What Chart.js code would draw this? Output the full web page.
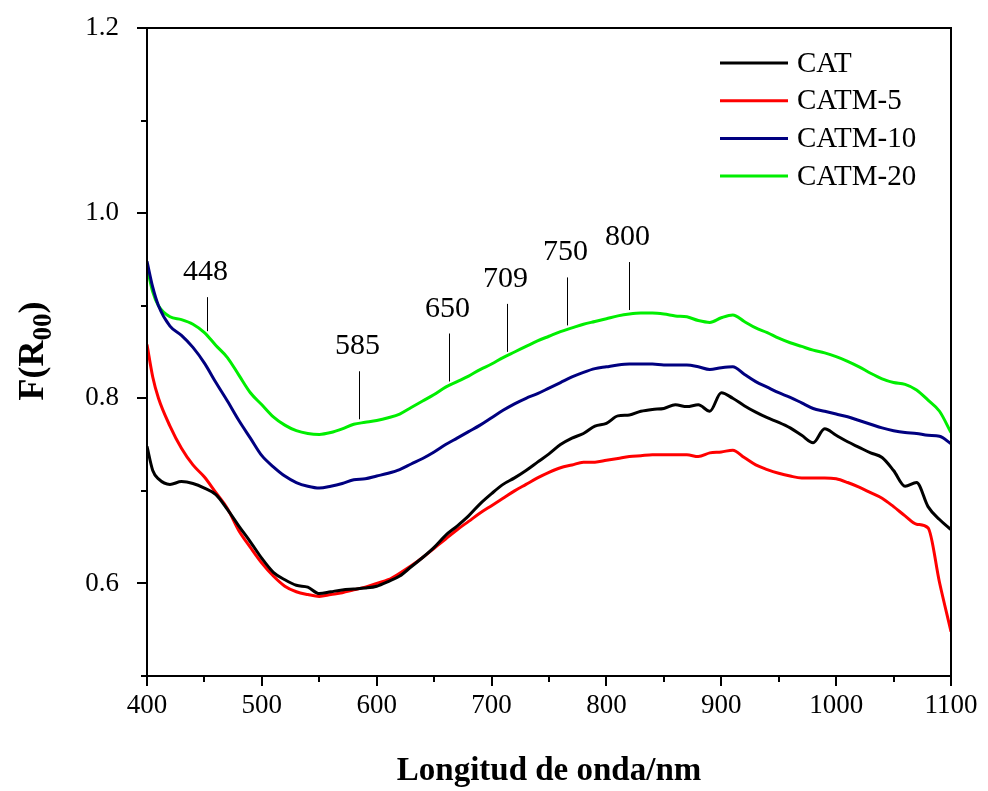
<!DOCTYPE html>
<html>
<head>
<meta charset="utf-8">
<script src="https://cdn.jsdelivr.net/npm/chart.js@4.4.1/dist/chart.umd.min.js"></script>
<style>
  body { margin: 0; background: #fff; }
  #spectra { display: block; }
</style>
</head>
<body>
<canvas id="spectra" width="988" height="791"></canvas>
<script>
// wavelength (nm) and F(R00)
const wavelength = [400, 405, 410, 420, 430, 440, 450, 460, 470, 480, 490, 500, 510, 520, 530, 540, 550, 560, 570, 580,
    590, 600, 610, 620, 630, 640, 650, 660, 670, 680, 690, 700, 710, 720, 730, 740, 750, 760, 770, 780,
    790, 800, 810, 820, 830, 840, 850, 860, 870, 880, 890, 900, 910, 920, 930, 940, 950, 960, 970, 980,
    990, 1000, 1010, 1020, 1030, 1040, 1050, 1060, 1070, 1080, 1090, 1100];

const cat = [0.748, 0.722, 0.713, 0.707, 0.710, 0.708, 0.703, 0.696, 0.680, 0.662, 0.645, 0.627, 0.612, 0.604, 0.598, 0.596, 0.589, 0.591, 0.593, 0.594,
    0.595, 0.597, 0.602, 0.608, 0.618, 0.628, 0.639, 0.652, 0.662, 0.673, 0.686, 0.697, 0.707, 0.714, 0.722, 0.731, 0.740, 0.750, 0.757, 0.762,
    0.770, 0.773, 0.781, 0.782, 0.786, 0.788, 0.789, 0.793, 0.791, 0.793, 0.786, 0.806, 0.800, 0.792, 0.785, 0.779, 0.774, 0.768, 0.760, 0.752,
    0.767, 0.760, 0.753, 0.747, 0.741, 0.736, 0.722, 0.705, 0.709, 0.683, 0.669, 0.658];

const catm5 = [0.858, 0.823, 0.800, 0.770, 0.746, 0.728, 0.715, 0.698, 0.681, 0.657, 0.639, 0.622, 0.608, 0.597, 0.591, 0.588, 0.586, 0.588, 0.590, 0.593,
    0.596, 0.600, 0.604, 0.611, 0.619, 0.628, 0.638, 0.648, 0.658, 0.667, 0.676, 0.684, 0.692, 0.700, 0.707, 0.714, 0.720, 0.725, 0.728, 0.731,
    0.731, 0.733, 0.735, 0.737, 0.738, 0.739, 0.739, 0.739, 0.739, 0.737, 0.741, 0.742, 0.744, 0.736, 0.728, 0.723, 0.719, 0.716, 0.714, 0.714,
    0.714, 0.713, 0.709, 0.704, 0.698, 0.692, 0.683, 0.673, 0.664, 0.660, 0.601, 0.548];

const catm10 = [0.948, 0.920, 0.900, 0.878, 0.868, 0.855, 0.838, 0.817, 0.797, 0.776, 0.757, 0.738, 0.726, 0.716, 0.709, 0.705, 0.703, 0.705, 0.708, 0.712,
    0.713, 0.716, 0.719, 0.723, 0.729, 0.735, 0.742, 0.750, 0.757, 0.764, 0.771, 0.779, 0.787, 0.794, 0.800, 0.805, 0.811, 0.817, 0.823, 0.828,
    0.832, 0.834, 0.836, 0.837, 0.837, 0.837, 0.836, 0.836, 0.836, 0.834, 0.831, 0.833, 0.834, 0.826, 0.818, 0.812, 0.806, 0.801, 0.795, 0.789,
    0.786, 0.783, 0.780, 0.776, 0.772, 0.768, 0.765, 0.763, 0.762, 0.760, 0.759, 0.751];

const catm20 = [0.942, 0.915, 0.900, 0.888, 0.885, 0.880, 0.871, 0.857, 0.844, 0.825, 0.806, 0.793, 0.780, 0.771, 0.765, 0.762, 0.761, 0.763, 0.767, 0.772,
    0.774, 0.776, 0.779, 0.783, 0.790, 0.797, 0.804, 0.812, 0.818, 0.824, 0.831, 0.837, 0.844, 0.850, 0.856, 0.862, 0.867, 0.872, 0.876, 0.880,
    0.883, 0.886, 0.889, 0.891, 0.892, 0.892, 0.891, 0.889, 0.888, 0.884, 0.882, 0.887, 0.890, 0.883, 0.876, 0.871, 0.865, 0.860, 0.856, 0.852,
    0.849, 0.845, 0.840, 0.834, 0.827, 0.821, 0.817, 0.815, 0.809, 0.798, 0.786, 0.763];

const seriesNames = ['CAT', 'CATM-5', 'CATM-10', 'CATM-20'];
const seriesColors = ['#000000', '#ff0000', '#000080', '#00ee00'];

// band labels marked above the CATM-20 curve, and where their markers stand (nm)
const bandLabels = ['448', '585', '650', '709', '750', '800'];
const bandAt = [452, 585, 663, 713, 766, 820];

const SERIF = '"Liberation Serif", "Times New Roman", serif';

const toPoints = (ys) => wavelength.map((w, i) => ({ x: w, y: ys[i] }));

// value of a dataset at any wavelength, by linear interpolation
const valueAt = (ys, w) => {
    for (let i = 1; i < wavelength.length; i++) {
        if (w <= wavelength[i]) {
            const t = (w - wavelength[i - 1]) / (wavelength[i] - wavelength[i - 1]);
            return ys[i - 1] + t * (ys[i] - ys[i - 1]);
        }
    }
    return ys[ys.length - 1];
};

const line = (ctx, x1, y1, x2, y2) => {
    ctx.beginPath();
    ctx.moveTo(x1, y1);
    ctx.lineTo(x2, y2);
    ctx.stroke();
};

const framePlugin = {
    id: 'frame',
    afterDraw(chart) {
        const { ctx, chartArea: a, scales: { x, y } } = chart;
        ctx.save();
        ctx.strokeStyle = '#000';
        ctx.lineWidth = 2;
        ctx.strokeRect(a.left, a.top, a.right - a.left, a.bottom - a.top);

        // tick marks, outward, minor ones shorter
        x.ticks.forEach(t => {
            const px = Math.round(x.getPixelForValue(t.value));
            line(ctx, px, a.bottom, px, a.bottom + (t.value % 100 === 0 ? 10 : 6));
        });
        y.ticks.forEach(t => {
            const py = Math.round(y.getPixelForValue(t.value));
            const major = Math.round(t.value * 10) % 2 === 0;
            line(ctx, a.left, py, a.left - (major ? 10 : 6), py);
        });

        // band markers
        ctx.lineWidth = 1;
        ctx.fillStyle = '#000';
        ctx.font = '30px ' + SERIF;
        ctx.textAlign = 'center';
        ctx.textBaseline = 'alphabetic';
        bandLabels.forEach((lab, i) => {
            const px = Math.round(x.getPixelForValue(bandAt[i])) + 0.5;
            const base = y.getPixelForValue(valueAt(catm20, bandAt[i])) - 4;
            const len = i === 0 ? 34 : 48;
            line(ctx, px, base, px, base - len);
            ctx.fillText(lab, px - 2, base - len - 17);
        });

        // legend
        ctx.font = '29px ' + SERIF;
        ctx.textAlign = 'left';
        ctx.textBaseline = 'middle';
        chart.data.datasets.forEach((ds, i) => {
            const ly = 63 + i * 37.7;
            ctx.strokeStyle = ds.borderColor;
            ctx.lineWidth = 3;
            line(ctx, 720, ly, 788, ly);
            ctx.fillText(ds.label, 797, ly + 1);
        });

        // y title with subscript
        ctx.translate(31, 351);
        ctx.rotate(-Math.PI / 2);
        ctx.textBaseline = 'alphabetic';
        const big = 'bold 36px ' + SERIF, small = 'bold 27px ' + SERIF;
        ctx.font = big;
        const w1 = ctx.measureText('F(R').width;
        ctx.font = small;
        const w2 = ctx.measureText('00').width;
        ctx.font = big;
        const w3 = ctx.measureText(')').width;
        let cx = -(w1 + w2 + w3) / 2;
        ctx.fillText('F(R', cx, 12);
        cx += w1;
        ctx.font = small;
        ctx.fillText('00', cx, 20);
        cx += w2;
        ctx.font = big;
        ctx.fillText(')', cx, 12);
        ctx.restore();
    }
};

const ctx = document.getElementById('spectra').getContext('2d');
const spectraChart = new Chart(ctx, {
    type: 'line',
    data: {
        datasets: [
            { label: seriesNames[0], data: toPoints(cat) },
            { label: seriesNames[1], data: toPoints(catm5) },
            { label: seriesNames[2], data: toPoints(catm10) },
            { label: seriesNames[3], data: toPoints(catm20) }
        ].map((ds, i) => Object.assign(ds, {
            borderColor: seriesColors[i],
            backgroundColor: seriesColors[i],
            borderWidth: 3,
            pointRadius: 0,
            cubicInterpolationMode: 'monotone',
            fill: false
        }))
    },
    options: {
        responsive: false,
        animation: false,
        layout: { padding: { left: 0, top: 28, right: 37, bottom: 0 } },
        plugins: {
            legend: { display: false },
            tooltip: { enabled: false }
        },
        scales: {
            x: {
                type: 'linear',
                min: 400,
                max: 1100,
                grid: { display: false, drawTicks: false },
                border: { display: false },
                ticks: {
                    stepSize: 50,
                    padding: 14,
                    color: '#000',
                    font: { family: SERIF, size: 27 },
                    maxRotation: 0,
                    autoSkip: false,
                    callback: v => (v % 100 === 0 ? v : '')
                },
                title: {
                    display: true,
                    text: 'Longitud de onda/nm',
                    color: '#000',
                    font: { family: SERIF, size: 33, weight: 'bold' },
                    padding: { top: 0, bottom: 0 }
                },
                afterFit: s => {
                    s.height = 115;
                    s.paddingLeft = 0;
                    s.paddingRight = 0;
                }
            },
            y: {
                min: 0.5,
                max: 1.2,
                grid: { display: false, drawTicks: false },
                border: { display: false },
                ticks: {
                    stepSize: 0.1,
                    padding: 28,
                    color: '#000',
                    font: { family: SERIF, size: 27 },
                    autoSkip: false,
                    callback: v => {
                        const k = Math.round(v * 10);
                        return (k % 2 === 0 && k > 5) ? (k / 10).toFixed(1) : '';
                    }
                },
                afterFit: s => {
                    s.width = 147;
                    s.paddingTop = 0;
                    s.paddingBottom = 0;
                }
            }
        }
    },
    plugins: [framePlugin]
});
</script>
</body>
</html>
